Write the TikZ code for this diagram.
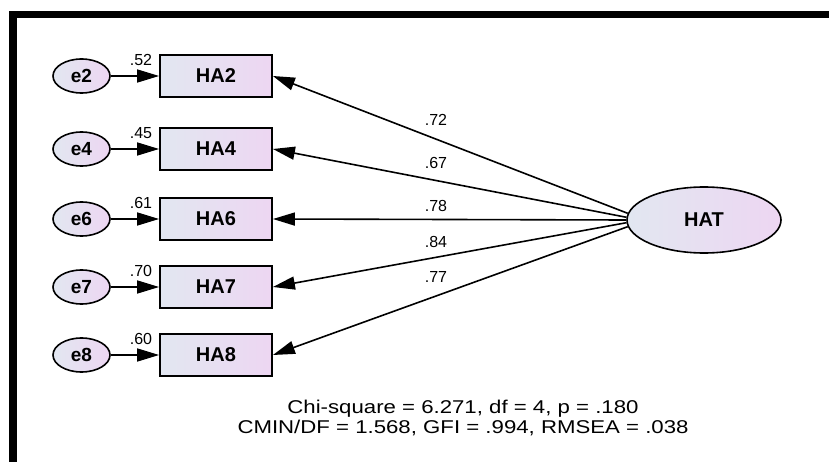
\documentclass[tikz,border=0pt]{standalone}
\usepackage{fontspec}
\setmainfont{Liberation Sans}
\newfontfamily\statfont[FakeStretch=1.2]{Liberation Sans}
\usetikzlibrary{arrows.meta,shapes.geometric}
\definecolor{fillleft}{RGB}{226,231,241}
\definecolor{fillright}{RGB}{237,214,242}
\tikzset{errnode/.style={ellipse,draw,line width=1.6pt,minimum width=57pt,minimum height=34pt,inner sep=0pt,
    left color=fillleft,right color=fillright,font=\fontsize{19}{19}\selectfont\bfseries},
  item/.style={rectangle,draw,line width=1.8pt,minimum width=112pt,minimum height=42pt,inner sep=0pt,
    left color=fillleft,right color=fillright,font=\fontsize{20}{20}\selectfont\bfseries},
  link/.style={-{Triangle[length=22pt,width=13pt]},line width=1.6pt},
  wt/.style={font=\fontsize{16}{16}\selectfont,inner sep=0pt}}

\begin{document}
\begin{tikzpicture}[x=1pt,y=-1pt]
  \path[use as bounding box] (0,0) rectangle (829,462);
  \fill (9,11) rectangle (829,18);
  \fill (9,11) rectangle (17,462);
  \node[ellipse,draw,line width=1.6pt,minimum width=154pt,minimum height=66pt,inner sep=0pt,
    left color=fillleft,right color=fillright,font=\fontsize{20}{20}\selectfont\bfseries] (HAT) at (704,220) {HAT};
  \foreach \n/\y/\r/\k/\ky/\a in {2/76/.52/.72/120/175,4/149/.45/.67/163/178,6/219/.61/.78/206/180,
      7/287/.70/.84/242/182,8/355/.60/.77/277/185}{
    \node[item] (HA\n) at (216,\y) {HA\n};
    \node[errnode] (e\n) at (81.5,\y) {e\n};
    \draw[link] (e\n) -- (HA\n);
    \node[wt] at (141,\y-16) {\r};
    \draw[link] (HAT.\a) -- (HA\n.east);
    \node[wt] at (436,\ky) {\k};
  }
  \node[font=\statfont\fontsize{18.5}{20}\selectfont,align=center,inner sep=0pt] (fitinfo) at (463,418)
    {Chi-square = 6.271, df = 4, p = .180\\CMIN/DF = 1.568, GFI = .994, RMSEA = .038};
\end{tikzpicture}
\end{document}
